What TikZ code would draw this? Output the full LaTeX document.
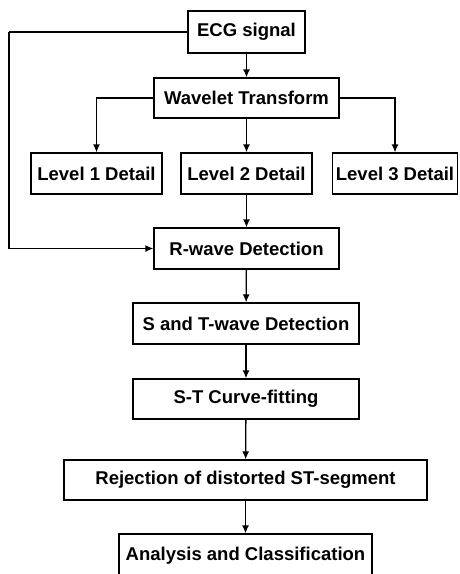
\documentclass[tikz,border=0pt]{standalone}
\usepackage{fontspec}
\setmainfont{Liberation Sans}
\usetikzlibrary{arrows.meta,positioning}
\tikzset{
  box/.style={draw, line width=1.3pt, inner sep=0pt, font=\bfseries\fontsize{18.5}{21}\selectfont},
  conn/.style={line width=1.3pt, -{Latex[length=8pt,width=7pt]}},
  plain/.style={line width=1.3pt}
}
\begin{document}
\begin{tikzpicture}[x=1pt,y=-1pt]
\useasboundingbox (0,0) rectangle (459,574);
\clip (0,0) rectangle (459,574);
\node[box, minimum width=117pt, minimum height=42pt] (ecg) at (246.5,32) {ECG signal};
\node[box, minimum width=185pt, minimum height=40pt] (wt) at (246.5,98) {Wavelet Transform};
\node[box, minimum width=131pt, minimum height=41pt] (l1) at (96.5,173.5) {Level 1 Detail};
\node[box, minimum width=131pt, minimum height=41pt] (l2) at (246.5,173.5) {Level 2 Detail};
\node[box, minimum width=125pt, minimum height=41pt] (l3) at (395,173.5) {Level 3 Detail};
\node[box, minimum width=185pt, minimum height=41pt] (rw) at (246.5,248.5) {R-wave Detection};
\node[box, minimum width=226pt, minimum height=41pt] (st) at (246,323.5) {S and T-wave Detection};
\node[box, minimum width=226pt, minimum height=40pt] (cf) at (246,399) {S-T Curve-fitting};
\node[box, minimum width=363pt, minimum height=40pt] (rej) at (245.5,480) {Rejection of distorted ST-segment};
\node[box, minimum width=253pt, minimum height=43pt] (ana) at (245.5,555.5) {Analysis and Classification};
\coordinate (lft) at (9,32);
\draw[conn] (ecg) -- (wt);
\draw[conn] (wt) -- (l2);
\draw[conn] (wt.west) -| (l1.north);
\draw[conn] (wt.east) -| (l3.north);
\draw[conn] (l2) -- (rw);
\draw[plain] (ecg.west) -- (lft);
\draw[conn] (lft) |- (rw.west);
\draw[conn] (rw) -- (st);
\draw[conn] (st) -- (cf);
\draw[conn] (cf) -- (rej);
\draw[conn] (rej) -- (ana);
\end{tikzpicture}
\end{document}
